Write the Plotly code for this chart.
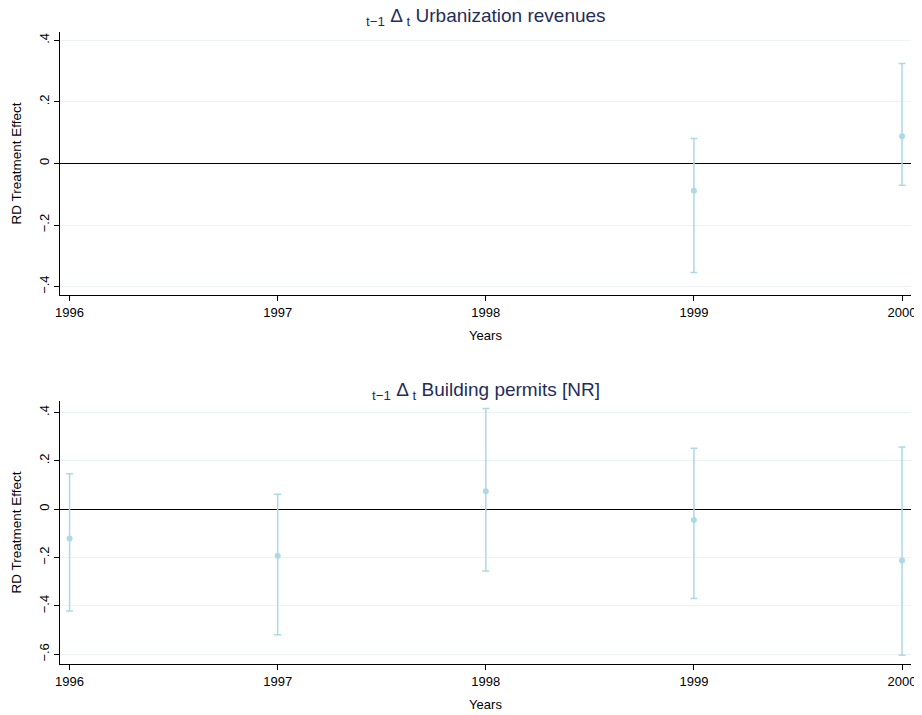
import plotly.graph_objects as go

# Top panel: Urbanization revenues
years_top = [1999, 2000]
est_top = [-0.089, 0.088]
ci_lo_top = [-0.354, -0.071]
ci_hi_top = [0.081, 0.325]

# Bottom panel: Building permits [NR]
years_bot = [1996, 1997, 1998, 1999, 2000]
est_bot = [-0.121, -0.192, 0.074, -0.045, -0.212]
ci_lo_bot = [-0.421, -0.519, -0.256, -0.369, -0.604]
ci_hi_bot = [0.146, 0.062, 0.416, 0.252, 0.257]

x_ticks = [1996, 1997, 1998, 1999, 2000]
y_ticks_top = [-0.4, -0.2, 0, 0.2, 0.4]
y_labels_top = ["\u2212.4", "\u2212.2", "0", ".2", ".4"]
y_ticks_bot = [-0.6, -0.4, -0.2, 0, 0.2, 0.4]
y_labels_bot = ["\u2212.6", "\u2212.4", "\u2212.2", "0", ".2", ".4"]

titles = ["<sub>t\u22121</sub> \u0394<sub> t</sub> Urbanization revenues",
          "<sub>t\u22121</sub> \u0394<sub> t</sub> Building permits [NR]"]

COL = "#add8e6"
OFF = 8  # page body margin
W, H = 922 - OFF, 715 - OFF
# target pixel positions in the window, shifted into figure coordinates
L = 60 - OFF
R = 922 - 911
T = 31.7 - OFF
B = 715 - 664
PH = H - T - B

fig = go.Figure()

def add_series(xs, est, lo, hi, xa, ya):
    fig.add_trace(go.Scatter(
        x=xs, y=est, mode="markers", xaxis=xa, yaxis=ya,
        marker=dict(color=COL, size=6),
        error_y=dict(type="data", symmetric=False,
                     array=[h - e for h, e in zip(hi, est)],
                     arrayminus=[e - l for e, l in zip(est, lo)],
                     color=COL, thickness=1.5, width=3.5),
        showlegend=False, cliponaxis=False))

add_series(years_top, est_top, ci_lo_top, ci_hi_top, "x", "y")
add_series(years_bot, est_bot, ci_lo_bot, ci_hi_bot, "x2", "y2")

font_fam = "Liberation Sans, Arial, sans-serif"

def xaxis(anchor):
    return dict(range=[1995.954, 2000.043], tickvals=x_ticks,
                ticktext=[str(v) for v in x_ticks], anchor=anchor,
                domain=[0, 1], showgrid=False, zeroline=False, automargin=False,
                showline=True, linecolor="black", linewidth=1.2,
                ticks="outside", ticklen=5, tickcolor="black",
                tickfont=dict(size=13, color="black", family=font_fam),
                title=dict(text="Years", font=dict(size=13, color="black", family=font_fam),
                           standoff=12))

def yaxis(anchor, rng, domain, tv, tt):
    return dict(range=rng, tickvals=tv, ticktext=tt, anchor=anchor, domain=domain,
                tickangle=-90, showgrid=True, gridcolor="#eaf2f3", gridwidth=1,
                zeroline=True, zerolinecolor="black", zerolinewidth=1.2,
                showline=True, linecolor="black", linewidth=1.2, automargin=False,
                ticks="outside", ticklen=5, tickcolor="black",
                tickfont=dict(size=13, color="black", family=font_fam),
                title=dict(text="RD Treatment Effect",
                           font=dict(size=13.5, color="black", family=font_fam),
                           standoff=11))

def px_to_dom(y_px):
    # window pixel y -> plot-area fraction
    return (715 - B - y_px) / PH

fig.update_layout(
    width=W, height=H,
    margin=dict(l=L, r=R, t=T, b=B, autoexpand=False),
    plot_bgcolor="white", paper_bgcolor="white",
    font=dict(family=font_fam),
    xaxis=xaxis("y"),
    xaxis2=xaxis("y2"),
    yaxis=yaxis("x", [-0.428, 0.427], [px_to_dom(295), 1], y_ticks_top, y_labels_top),
    yaxis2=yaxis("x2", [-0.640, 0.448], [0, px_to_dom(400.7)], y_ticks_bot, y_labels_bot),
    annotations=[
        dict(text=titles[0], x=(485.5 - 60) / (911 - 60), y=px_to_dom(17),
             xref="paper", yref="paper",
             xanchor="center", yanchor="middle", showarrow=False,
             font=dict(size=19, color="#1f2d5c", family=font_fam)),
        dict(text=titles[1], x=(485.5 - 60) / (911 - 60), y=px_to_dom(391),
             xref="paper", yref="paper",
             xanchor="center", yanchor="middle", showarrow=False,
             font=dict(size=19, color="#1f2d5c", family=font_fam)),
    ],
)

fig.write_html("out.html")
